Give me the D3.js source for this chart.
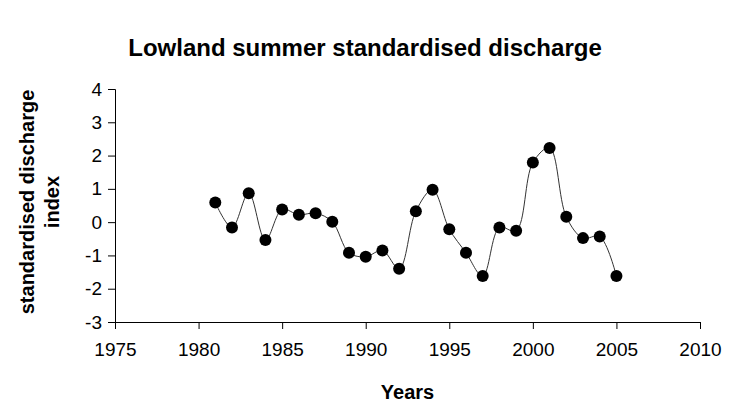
<!DOCTYPE html>
<html>
<head>
<meta charset="utf-8">
<script src="https://cdn.jsdelivr.net/npm/d3@7"></script>
<style>
  body { margin: 0; background: #fff; }
  text { font-family: "Liberation Sans", Arial, sans-serif; fill: #000; }
</style>
</head>
<body>
<svg width="730" height="407"></svg>
<script>
// data
var years = [1981, 1982, 1983, 1984, 1985, 1986, 1987, 1988, 1989, 1990, 1991, 1992, 1993,
             1994, 1995, 1996, 1997, 1998, 1999, 2000, 2001, 2002, 2003, 2004, 2005];
var values = [0.59, -0.16, 0.87, -0.54, 0.38, 0.22, 0.27, 0.01, -0.92, -1.04, -0.85, -1.40, 0.33,
              0.97, -0.21, -0.92, -1.62, -0.16, -0.26, 1.79, 2.23, 0.16, -0.48, -0.43, -1.62];
var xTicks = [1975, 1980, 1985, 1990, 1995, 2000, 2005, 2010];
var yTicks = [-3, -2, -1, 0, 1, 2, 3, 4];

var svg = d3.select('svg');
var padding = { t: 89, r: 30, b: 85, l: 115 };

var chartWidth = +svg.attr('width') - padding.l - padding.r;
var chartHeight = +svg.attr('height') - padding.t - padding.b;

var chartG = svg.append('g')
    .attr('transform', 'translate(' + [padding.l, padding.t] + ')');

var data = years.map(function(y, i) { return { year: y, value: values[i] }; });

var xScale = d3.scaleLinear().domain([1975, 2010]).range([0, chartWidth]);
var yScale = d3.scaleLinear().domain([-3, 4]).range([chartHeight, 0]);

// axes
var xAxis = chartG.append('g')
    .attr('class', 'x-axis')
    .attr('transform', 'translate(0,' + chartHeight + ')')
    .call(d3.axisBottom(xScale).tickValues(xTicks).tickFormat(d3.format('d'))
        .tickSizeOuter(0).tickSize(7).tickPadding(14));

var yAxis = chartG.append('g')
    .attr('class', 'y-axis')
    .call(d3.axisLeft(yScale).tickValues(yTicks).tickFormat(function(d) { return String(d); })
        .tickSizeOuter(0).tickSize(7).tickPadding(6));

chartG.selectAll('.domain, .tick line').attr('stroke', '#000').attr('stroke-width', 1);
chartG.selectAll('.tick text')
    .attr('font-size', 19)
    .style('font-family', '"Liberation Sans", Arial, sans-serif');

// smoothed line
var line = d3.line()
    .x(function(d) { return xScale(d.year); })
    .y(function(d) { return yScale(d.value); })
    .curve(d3.curveCatmullRom.alpha(0.5));

chartG.append('path')
    .datum(data)
    .attr('fill', 'none')
    .attr('stroke', '#333')
    .attr('stroke-width', 1)
    .attr('d', line);

chartG.selectAll('.dot')
    .data(data)
    .enter().append('circle')
    .attr('class', 'dot')
    .attr('cx', function(d) { return xScale(d.year); })
    .attr('cy', function(d) { return yScale(d.value); })
    .attr('r', 6)
    .attr('fill', '#000');

// titles
svg.append('text')
    .attr('x', 365)
    .attr('y', 56)
    .attr('text-anchor', 'middle')
    .attr('font-size', 24)
    .attr('font-weight', 'bold')
    .text('Lowland summer standardised discharge');

svg.append('text')
    .attr('x', padding.l + chartWidth / 2)
    .attr('y', 399)
    .attr('text-anchor', 'middle')
    .attr('font-size', 20)
    .attr('font-weight', 'bold')
    .text('Years');

var yTitle = svg.append('text')
    .attr('transform', 'translate(40,202) rotate(-90)')
    .attr('text-anchor', 'middle')
    .attr('font-size', 20)
    .attr('font-weight', 'bold');
yTitle.append('tspan').attr('x', 0).attr('y', -6).text('standardised discharge');
yTitle.append('tspan').attr('x', 0).attr('y', 19).text('index');
</script>
</body>
</html>
